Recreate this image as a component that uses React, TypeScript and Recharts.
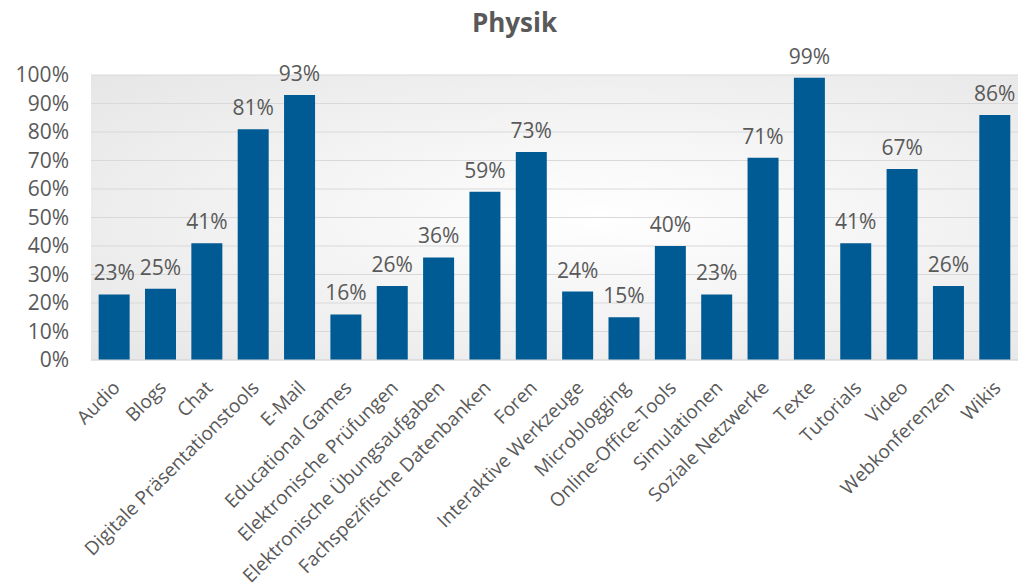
import { BarChart, Bar, XAxis, YAxis, CartesianGrid, LabelList } from "recharts";

const categories = [
  "Audio",
  "Blogs",
  "Chat",
  "Digitale Präsentationstools",
  "E-Mail",
  "Educational Games",
  "Elektronische Prüfungen",
  "Elektronische Übungsaufgaben",
  "Fachspezifische Datenbanken",
  "Foren",
  "Interaktive Werkzeuge",
  "Microblogging",
  "Online-Office-Tools",
  "Simulationen",
  "Soziale Netzwerke",
  "Texte",
  "Tutorials",
  "Video",
  "Webkonferenzen",
  "Wikis",
];

const values = [23, 25, 41, 81, 93, 16, 26, 36, 59, 73, 24, 15, 40, 23, 71, 99, 41, 67, 26, 86];

const yTicks = [0, 10, 20, 30, 40, 50, 60, 70, 80, 90, 100];

const data = categories.map((name, i) => ({ name, value: values[i] }));

const FONT = "'Open Sans', 'Noto Sans', sans-serif";
const TEXT = "#595959";

function CategoryTick({ x, y, payload }: any) {
  const ax = x + 7;
  const ay = y + 27;
  return (
    <text
      x={ax}
      y={ay}
      transform={`rotate(-45, ${ax}, ${ay})`}
      textAnchor="end"
      fontSize={19}
      fill={TEXT}
      fontFamily={FONT}
    >
      {payload.value}
    </text>
  );
}

export default function App() {
  return (
    <div
      style={{
        position: "absolute",
        left: 0,
        top: 0,
        width: 1019,
        height: 583,
        background: "#fff",
        fontFamily: FONT,
      }}
    >
      <div
        style={{
          position: "absolute",
          top: 5,
          left: 5,
          width: 1019,
          textAlign: "center",
          fontSize: 26,
          lineHeight: "34px",
          fontWeight: 700,
          color: TEXT,
        }}
      >
        Physik
      </div>
      <BarChart
        width={1019}
        height={583}
        data={data}
        margin={{ top: 75, right: 1, left: 0, bottom: 0 }}
        barCategoryGap="16.5%"
      >
        <defs>
          <radialGradient id="plotBg" cx="55%" cy="50%" r="80%">
            <stop offset="0%" stopColor="#ffffff" />
            <stop offset="100%" stopColor="#e4e4e4" />
          </radialGradient>
        </defs>
        <CartesianGrid vertical={false} stroke="#d9d9d9" fill="url(#plotBg)" />
        <XAxis
          dataKey="name"
          interval={0}
          height={223}
          tickLine={false}
          tickSize={0}
          axisLine={{ stroke: "#d9d9d9" }}
          tick={<CategoryTick />}
        />
        <YAxis
          width={91}
          domain={[0, 100]}
          ticks={yTicks}
          interval={0}
          tickFormatter={(v: number) => `${v}%`}
          tickLine={false}
          tickSize={0}
          tickMargin={22}
          axisLine={false}
          tick={{ fontSize: 21, fill: TEXT, fontFamily: FONT }}
        />
        <Bar dataKey="value" fill="#005a94" isAnimationActive={false}>
          <LabelList
            dataKey="value"
            position="top"
            offset={14}
            formatter={(v: any) => `${v}%`}
            fill={TEXT}
            fontSize={21}
            fontFamily={FONT}
          />
        </Bar>
      </BarChart>
    </div>
  );
}
